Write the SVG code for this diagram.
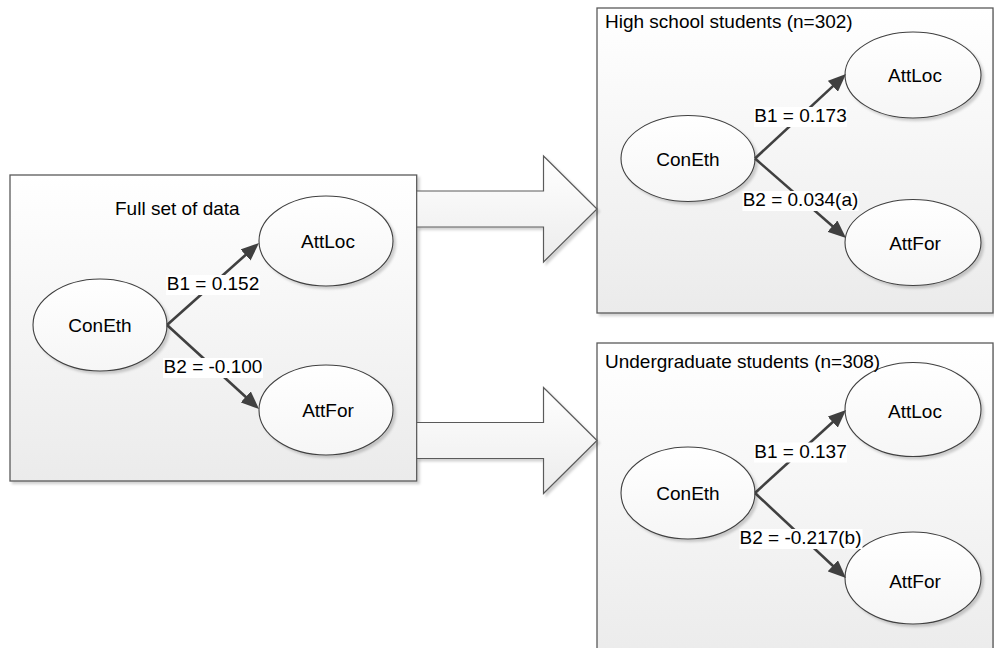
<svg xmlns="http://www.w3.org/2000/svg" width="994" height="648" viewBox="0 0 994 648">
  <defs>
    <linearGradient id="boxFill" x1="0" y1="0" x2="0" y2="1">
      <stop offset="0" stop-color="#ffffff"/>
      <stop offset="1" stop-color="#ebebeb"/>
    </linearGradient>
    <linearGradient id="arrowFill" x1="0" y1="0" x2="0" y2="1">
      <stop offset="0" stop-color="#ffffff"/>
      <stop offset="1" stop-color="#ececec"/>
    </linearGradient>
    <linearGradient id="ellFill" x1="0" y1="0" x2="0" y2="1">
      <stop offset="0" stop-color="#ffffff"/>
      <stop offset="1" stop-color="#f6f6f6"/>
    </linearGradient>
    <filter id="shadow" x="-10%" y="-10%" width="130%" height="130%">
      <feDropShadow dx="2.5" dy="2.5" stdDeviation="1.2" flood-color="#000000" flood-opacity="0.18"/>
    </filter>
    <marker id="ah" viewBox="0 0 18 15" refX="12" refY="7.5" markerWidth="18" markerHeight="15" orient="auto" markerUnits="userSpaceOnUse">
      <path d="M0,0 L18,7.5 L0,15 z" fill="#404040"/>
    </marker>
  </defs>
  <style>
    .box { fill: url(#boxFill); stroke: #5a5a5a; stroke-width: 1.3; filter: url(#shadow); }
    .bigarrow { fill: url(#arrowFill); stroke: #5a5a5a; stroke-width: 1.2; stroke-linejoin: miter; filter: url(#shadow); }
    .ell { fill: url(#ellFill); stroke: #404040; stroke-width: 1.1; filter: url(#shadow); }
    .txt { font-family: "Liberation Sans", Arial, sans-serif; font-size: 19px; fill: #000000; }
    .ctr { text-anchor: middle; }
    .edge { stroke: #404040; stroke-width: 2.6; fill: none; marker-end: url(#ah); }
    .lblbg { fill: #ffffff; stroke: none; }
  </style>

  <!-- Containers -->
  <g id="box-full">
    <rect class="box" x="10" y="175" width="406.7" height="306"/>
    <text class="txt" x="115" y="215">Full set of data</text>
  </g>
  <g id="box-high">
    <rect class="box" x="597" y="8" width="396" height="305"/>
  </g>
  <g id="box-under">
    <rect class="box" x="597" y="343" width="396" height="320"/>
  </g>

  <!-- Block arrows -->
  <g id="bigarrow-top">
    <polygon class="bigarrow" points="416.7,191 543.5,191 543.5,156 597,209 543.5,262 543.5,227 416.7,227"/>
  </g>
  <g id="bigarrow-bottom">
    <polygon class="bigarrow" points="416.7,422.5 543.5,422.5 543.5,387.5 597,440.5 543.5,493.5 543.5,458.5 416.7,458.5"/>
  </g>

  <!-- Left group nodes -->
  <g id="full-coneth">
    <ellipse class="ell" cx="100" cy="325" rx="67" ry="46"/>
    <text class="txt ctr" x="100" y="332">ConEth</text>
  </g>
  <g id="full-attloc">
    <ellipse class="ell" cx="326" cy="241" rx="67" ry="45"/>
    <text class="txt ctr" x="328" y="248">AttLoc</text>
  </g>
  <g id="full-attfor">
    <ellipse class="ell" cx="326" cy="410" rx="67" ry="45"/>
    <text class="txt ctr" x="328" y="417">AttFor</text>
  </g>

  <!-- High school group nodes -->
  <g id="high-coneth">
    <ellipse class="ell" cx="688" cy="158.5" rx="67" ry="43"/>
    <text class="txt ctr" x="688" y="165.5">ConEth</text>
  </g>
  <g id="high-attloc">
    <ellipse class="ell" cx="913" cy="75" rx="68" ry="43"/>
    <text class="txt ctr" x="915" y="82">AttLoc</text>
  </g>
  <g id="high-attfor">
    <ellipse class="ell" cx="913" cy="242.5" rx="68" ry="43"/>
    <text class="txt ctr" x="915" y="249.5">AttFor</text>
  </g>

  <!-- Undergraduate group nodes -->
  <g id="under-coneth">
    <ellipse class="ell" cx="688" cy="493" rx="67" ry="46"/>
    <text class="txt ctr" x="688" y="500">ConEth</text>
  </g>
  <g id="under-attloc">
    <ellipse class="ell" cx="913" cy="409.5" rx="68" ry="47"/>
    <text class="txt ctr" x="915" y="418">AttLoc</text>
  </g>
  <g id="under-attfor">
    <ellipse class="ell" cx="913" cy="578" rx="68" ry="46"/>
    <text class="txt ctr" x="915" y="588">AttFor</text>
  </g>

  <!-- Container titles -->
  <g id="titles">
    <text class="txt" x="605" y="28">High school students (n=302)</text>
    <text class="txt" x="605" y="368">Undergraduate students (n=308)</text>
  </g>

  <!-- Connectors -->
  <g id="connectors">
    <line class="edge" x1="167" y1="325" x2="254.5" y2="247"/>
    <line class="edge" x1="167" y1="325" x2="254.6" y2="405"/>
    <line class="edge" x1="755" y1="158.5" x2="841.6" y2="78.1"/>
    <line class="edge" x1="755" y1="158.5" x2="841.5" y2="234"/>
    <line class="edge" x1="755" y1="493" x2="841.6" y2="414"/>
    <line class="edge" x1="755" y1="493" x2="841.6" y2="574"/>

    <rect class="lblbg" x="166" y="275" width="94" height="20"/>
    <text class="txt ctr" x="213" y="290">B1 = 0.152</text>
    <rect class="lblbg" x="163" y="358" width="100" height="20"/>
    <text class="txt ctr" x="213" y="373">B2 = -0.100</text>

    <rect class="lblbg" x="754" y="107" width="93" height="20"/>
    <text class="txt ctr" x="800.5" y="122">B1 = 0.173</text>
    <rect class="lblbg" x="742.5" y="191" width="116" height="20"/>
    <text class="txt ctr" x="800.5" y="206">B2 = 0.034(a)</text>

    <rect class="lblbg" x="754" y="442.5" width="93" height="20"/>
    <text class="txt ctr" x="800.5" y="457.5">B1 = 0.137</text>
    <rect class="lblbg" x="739.5" y="529" width="123" height="20"/>
    <text class="txt ctr" x="800.5" y="544">B2 = -0.217(b)</text>
  </g>
</svg>
